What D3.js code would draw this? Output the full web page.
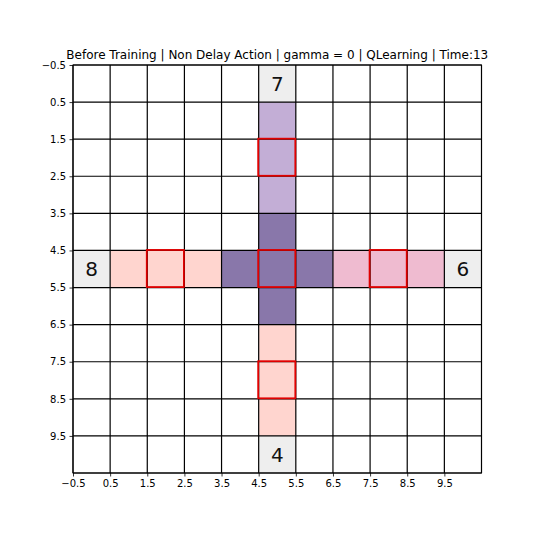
<!DOCTYPE html>
<html>
<head>
<meta charset="utf-8">
<script src="https://cdn.jsdelivr.net/npm/d3@7"></script>
<style>
  html, body { margin: 0; padding: 0; background: #fff; }
  svg { display: block; font-family: "DejaVu Sans", sans-serif; }
</style>
</head>
<body>
<script>
// ---- data ----
const titleText = "Before Training | Non Delay Action | gamma = 0 | QLearning | Time:13";
const tickValues = [-0.5, 0.5, 1.5, 2.5, 3.5, 4.5, 5.5, 6.5, 7.5, 8.5, 9.5];
const gridValues = [-0.5, 0.5, 1.5, 2.5, 3.5, 4.5, 5.5, 6.5, 7.5, 8.5, 9.5, 10.5];
// cells as [col, row]
const lightPurpleCells = [[5, 1], [5, 2], [5, 3]];
const darkPurpleCells = [[5, 4], [4, 5], [5, 5], [6, 5], [5, 6]];
const salmonCells = [[1, 5], [2, 5], [3, 5], [5, 7], [5, 8], [5, 9]];
const pinkCells = [[7, 5], [8, 5], [9, 5]];
const greyCells = [[5, 0, "7"], [0, 5, "8"], [10, 5, "6"], [5, 10, "4"]];
const redCells = [[5, 2], [2, 5], [5, 5], [8, 5], [5, 8]];

(function () {
const W = 540, H = 540;
const mLeft = 73, mRight = 481.5, mTop = 65, mBottom = 473;

const svg = d3.select("body").append("svg").attr("width", W).attr("height", H);
const x = d3.scaleLinear().domain([-0.5, 10.5]).range([mLeft, mRight]);
const y = d3.scaleLinear().domain([-0.5, 10.5]).range([mTop, mBottom]);

function drawCells(cells, color) {
  svg.append("g").selectAll("rect").data(cells).join("rect")
    .attr("x", d => x(d[0] - 0.5))
    .attr("y", d => y(d[1] - 0.5))
    .attr("width", d => x(d[0] + 0.5) - x(d[0] - 0.5))
    .attr("height", d => y(d[1] + 0.5) - y(d[1] - 0.5))
    .attr("fill", color);
}
drawCells(lightPurpleCells, "#c3aed6");
drawCells(darkPurpleCells, "#8977aa");
drawCells(salmonCells, "#ffd5cf");
drawCells(pinkCells, "#efbbd0");
drawCells(greyCells, "#eeeeee");

// grid
const grid = svg.append("g");
grid.selectAll("line.v").data(gridValues).join("line").attr("class", "v")
  .attr("x1", d => x(d)).attr("x2", d => x(d))
  .attr("y1", mTop).attr("y2", mBottom)
  .attr("stroke", "#000").attr("stroke-width", 1.2);
grid.selectAll("line.h").data(gridValues).join("line").attr("class", "h")
  .attr("y1", d => y(d)).attr("y2", d => y(d))
  .attr("x1", mLeft).attr("x2", mRight)
  .attr("stroke", "#000").attr("stroke-width", 1.2);

// red outlines
svg.append("g").selectAll("rect").data(redCells).join("rect")
  .attr("x", d => x(d[0] - 0.5) - 0.5)
  .attr("y", d => y(d[1] - 0.5) - 0.5)
  .attr("width", d => x(d[0] + 0.5) - x(d[0] - 0.5))
  .attr("height", d => y(d[1] + 0.5) - y(d[1] - 0.5))
  .attr("fill", "none").attr("stroke", "#e00000").attr("stroke-width", 1.8);

// labels
svg.append("g").selectAll("text").data(greyCells).join("text")
  .attr("x", d => x(d[0]))
  .attr("y", d => y(d[1]))
  .attr("dy", "0.36em")
  .attr("text-anchor", "middle")
  .attr("font-size", 20)
  .attr("fill", "#111")
  .text(d => d[2]);

// axes
const fmt = d => d < 0 ? "\u2212" + Math.abs(d) : String(d);
const xAxis = d3.axisBottom(x).tickValues(tickValues).tickFormat(fmt).tickSize(3.5).tickPadding(3.5);
const yAxis = d3.axisLeft(y).tickValues(tickValues).tickFormat(fmt).tickSize(3.5).tickPadding(3.5);
const gx = svg.append("g").attr("transform", `translate(0,${mBottom})`).call(xAxis);
const gy = svg.append("g").attr("transform", `translate(${mLeft},0)`).call(yAxis);
[gx, gy].forEach(g => {
  g.select(".domain").remove();
  g.selectAll("text").attr("font-size", 10).attr("font-family", "DejaVu Sans, sans-serif").attr("fill", "#000");
  g.selectAll("line").attr("stroke", "#000").attr("stroke-width", 0.8);
});

// spines
svg.append("rect").attr("x", mLeft).attr("y", mTop)
  .attr("width", mRight - mLeft).attr("height", mBottom - mTop)
  .attr("fill", "none").attr("stroke", "#000").attr("stroke-width", 1);

// title
svg.append("text").attr("x", (mLeft + mRight) / 2).attr("y", 59)
  .attr("text-anchor", "middle").attr("font-size", 12).attr("fill", "#000")
  .text(titleText);
})();
</script>
</body>
</html>
